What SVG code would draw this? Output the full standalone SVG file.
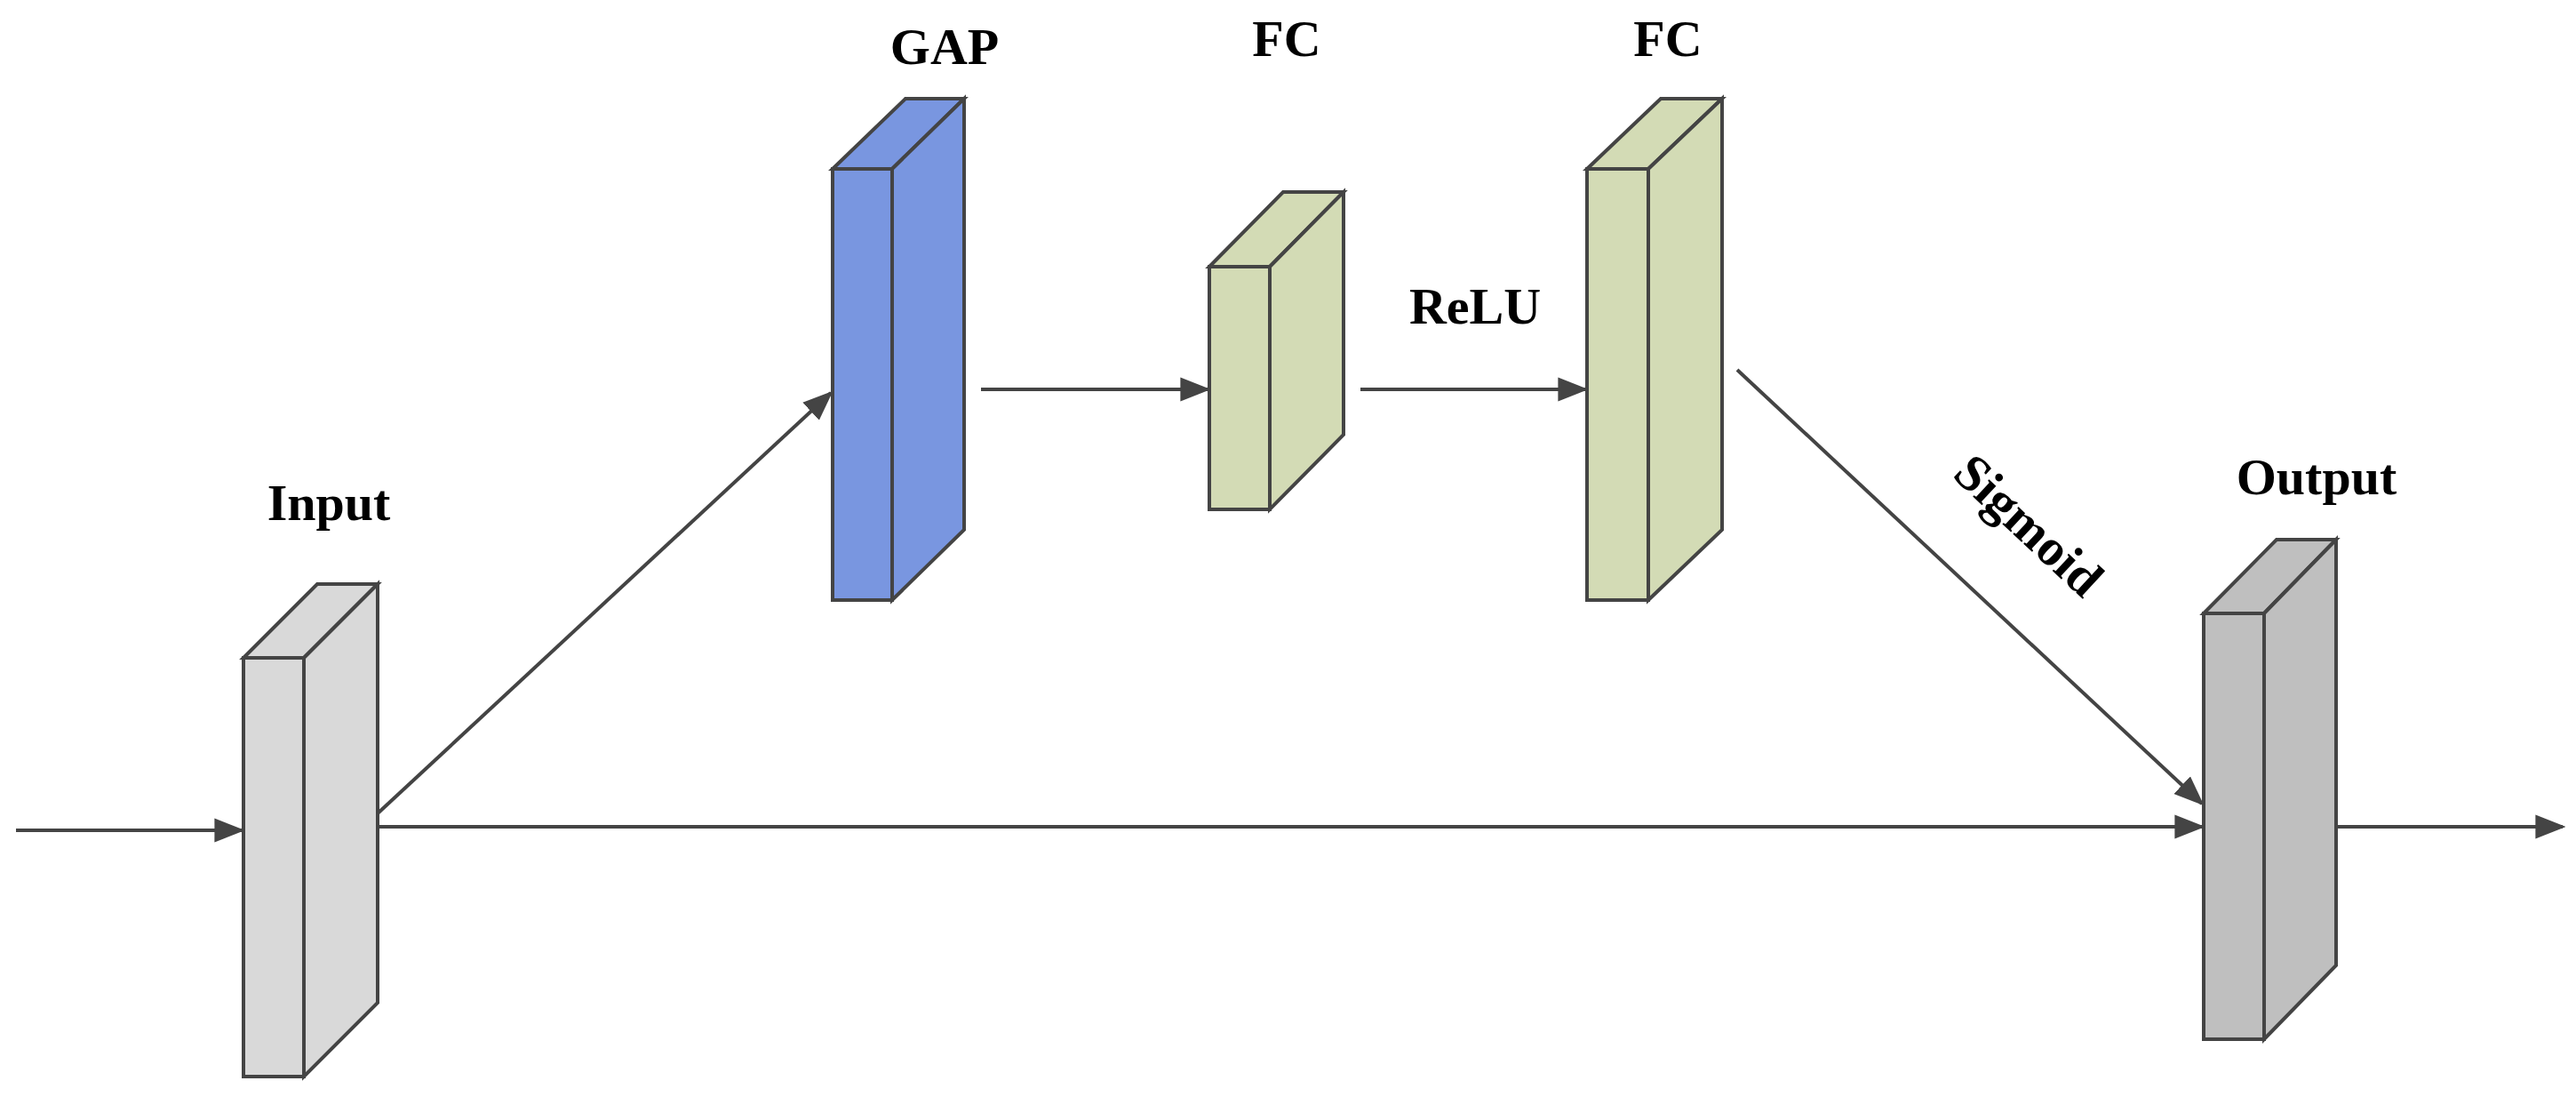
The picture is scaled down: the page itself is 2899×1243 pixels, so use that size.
<svg xmlns="http://www.w3.org/2000/svg" width="2899" height="1243" viewBox="0 0 2899 1243">
<style>
.b{stroke:#444;stroke-width:4;stroke-linejoin:miter}
.c{stroke:#444;stroke-width:4;fill:none}
.t{font-family:"Liberation Serif",serif;font-weight:bold;font-size:58px;fill:#000;text-anchor:middle}
.g1{fill:#d9d9d9}.bl{fill:#7996e0}.gr{fill:#d3dbb5}.g2{fill:#bfbfbf}
</style>
<defs><marker id="a" markerWidth="10" markerHeight="8" refX="9" refY="4" orient="auto" markerUnits="userSpaceOnUse" viewBox="0 0 10 8"><path d="M0,0L10,4L0,8z" fill="#444"/></marker>
<marker id="m" viewBox="0 0 10 8" refX="9" refY="4" markerWidth="34" markerHeight="28" orient="auto" markerUnits="userSpaceOnUse"><path d="M0,0L10,4L0,8z" fill="#444"/></marker></defs>
<g id="input" class="g1">
<polygon class="b" points="274,740 357,657 425,657 342,740"/>
<polygon class="b" points="342,740 425,657 425,1128 342,1211"/>
<rect class="b" x="274" y="740" width="68" height="471"/>
<text class="t" x="370" y="585">Input</text></g>
<g id="gap" class="bl">
<polygon class="b" points="937,190 1019,111 1085,111 1004,190"/>
<polygon class="b" points="1004,190 1085,111 1085,596 1004,675"/>
<rect class="b" x="937" y="190" width="67" height="485"/>
<text class="t" x="1063" y="72">GAP</text></g>
<g id="fc1" class="gr">
<polygon class="b" points="1361,300 1444,216 1512,216 1429,300"/>
<polygon class="b" points="1429,300 1512,216 1512,489 1429,573"/>
<rect class="b" x="1361" y="300" width="68" height="273"/>
<text class="t" x="1448" y="63">FC</text></g>
<g id="fc2" class="gr">
<polygon class="b" points="1786,190 1869,111 1938,111 1855,190"/>
<polygon class="b" points="1855,190 1938,111 1938,596 1855,675"/>
<rect class="b" x="1786" y="190" width="69" height="485"/>
<text class="t" x="1877" y="63">FC</text></g>
<g id="output" class="g2">
<polygon class="b" points="2480,690 2562,607 2629,607 2548,690"/>
<polygon class="b" points="2548,690 2629,607 2629,1086 2548,1169"/>
<rect class="b" x="2480" y="690" width="68" height="479"/>
<text class="t" x="2607" y="556">Output</text></g>
<g id="connectors" class="c">
<line x1="18" y1="934" x2="272" y2="934" marker-end="url(#m)"/>
<line x1="425" y1="915" x2="935" y2="442" marker-end="url(#m)"/>
<line x1="425" y1="930" x2="2478" y2="930" marker-end="url(#m)"/>
<line x1="1104" y1="438" x2="1359" y2="438" marker-end="url(#m)"/>
<line x1="1531" y1="438" x2="1784" y2="438" marker-end="url(#m)"/>
<line x1="1955" y1="416" x2="2478" y2="904" marker-end="url(#m)"/>
<line x1="2629" y1="930" x2="2884" y2="930" marker-end="url(#m)"/>
</g>
<text class="t" x="1660" y="364">ReLU</text>
<text class="t" transform="translate(2270,605) rotate(43)" x="0" y="0">Sigmoid</text>
</svg>
